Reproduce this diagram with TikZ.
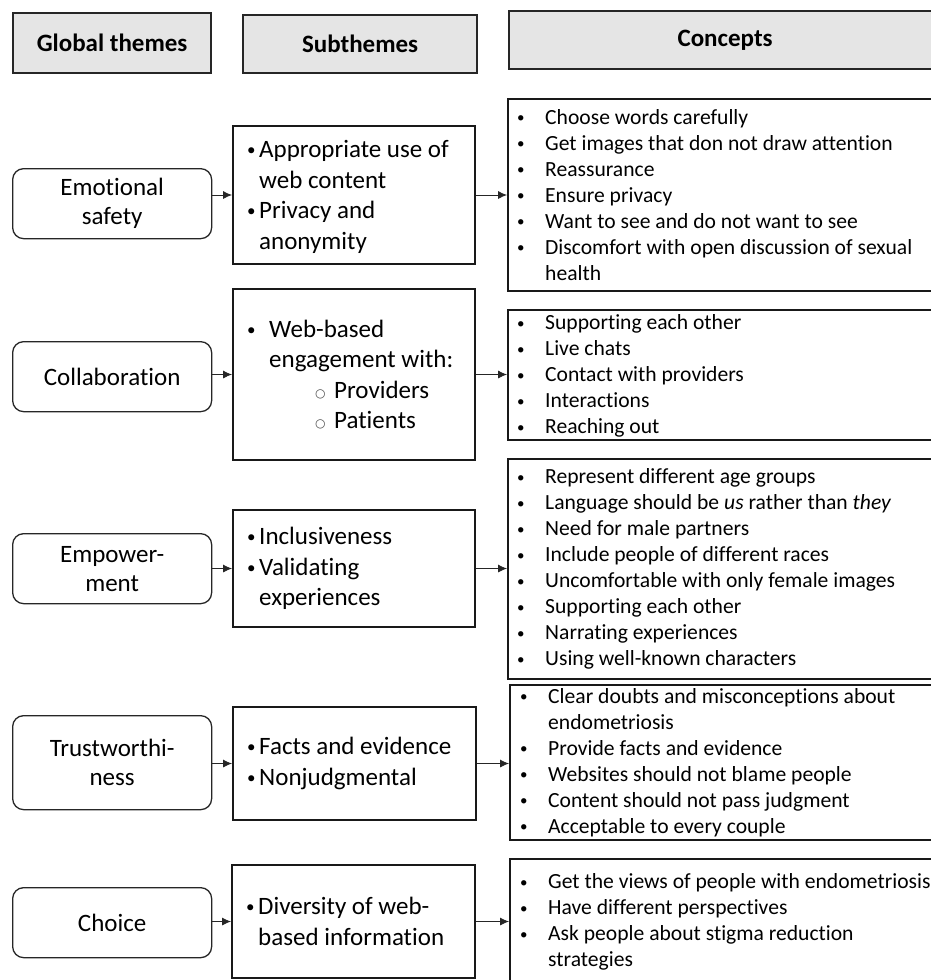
\documentclass[tikz,border=0pt]{standalone}
\usepackage{fontspec}
\setmainfont{Carlito}[Ligatures=NoCommon]
\newfontfamily\dvfam{DejaVu Sans}
\usetikzlibrary{arrows.meta}
\newcommand\smallbul{\raisebox{1.5pt}{\fontsize{15}{15}\selectfont•}}
\newcommand\conbul{\makebox[28pt][l]{\smallbul}}
\newcommand\conind{\hspace*{28pt}}
\newcommand\subbul{\makebox[12pt][l]{\raisebox{2pt}{\fontsize{17}{17}\selectfont•}}}
\newcommand\subind{\hspace*{12pt}}
\newcommand\subcirc{\makebox[19pt][l]{\raisebox{1pt}{\textcolor{black!70}{\dvfam\fontsize{12}{12}\selectfont○}}}}
\begin{document}
\begin{tikzpicture}[x=1pt,y=-1pt,
  hdr/.style={draw=black!85, line width=2.2pt, fill=black!10, anchor=north west, inner sep=0pt,
    font=\fontsize{25}{30}\selectfont\bfseries},
  gbox/.style={draw=black!85, line width=1.3pt, rounded corners=11pt, anchor=north west, inner sep=0pt,
    align=center, font=\fontsize{25}{29}\selectfont},
  frame/.style={draw=black!90, line width=2pt, anchor=north west, inner sep=0pt},
  stext/.style={anchor=west, inner sep=0pt, align=left, font=\fontsize{25}{30.5}\selectfont},
  ctext/.style={anchor=west, inner sep=0pt, align=left, font=\fontsize{21.6}{26}\selectfont},
  arr/.style={-{Latex[length=9pt,width=8pt]}, line width=0.8pt, draw=black!85}]
\clip (0,0) rectangle (931,980);
\fill[white] (0,0) rectangle (931,980);

% headers
\node[hdr, minimum width=198pt, minimum height=60pt] (h1) at (12,12) {Global themes};
\node[hdr, minimum width=234pt, minimum height=58pt] (h2) at (242,14) {Subthemes};
\node[hdr, minimum width=432pt, minimum height=58pt] (h3) at (508,10) {Concepts};

% global themes
\node[gbox, minimum width=199pt, minimum height=70pt] (g1) at (12,168) {Emotional\\safety};
\node[gbox, minimum width=199pt, minimum height=70pt] (g2) at (12,341) {Collaboration};
\node[gbox, minimum width=199pt, minimum height=70pt] (g3) at (12,533) {Empower-\\ment};
\node[gbox, minimum width=199pt, minimum height=94pt] (g4) at (12,715) {Trustworthi-\\ness};
\node[gbox, minimum width=199pt, minimum height=70pt] (g5) at (12,887) {Choice};

% subtheme frames
\node[frame, minimum width=242pt, minimum height=138pt] (s1) at (232,125) {};
\node[frame, minimum width=242pt, minimum height=171pt] (s2) at (232,288) {};
\node[frame, minimum width=242pt, minimum height=117pt] (s3) at (232,509) {};
\node[frame, minimum width=243pt, minimum height=113pt] (s4) at (232,706) {};
\node[frame, minimum width=243pt, minimum height=113pt] (s5) at (231,864) {};

% subtheme texts
\node[stext] (s1t) at ([xshift=15pt,yshift=-2pt]s1.west) {\subbul Appropriate use of\\\subind web content\\\subbul Privacy and\\\subind anonymity};
\node[stext] (s2t) at ([xshift=15pt]s2.west) {\makebox[22pt][l]{\raisebox{2pt}{\fontsize{17}{17}\selectfont•}}Web-based\\\hspace*{22pt}engagement with:\\\hspace*{68pt}\subcirc Providers\\\hspace*{68pt}\subcirc Patients};
\node[stext] (s3t) at ([xshift=15pt]s3.west) {\subbul Inclusiveness\\\subbul Validating\\\subind experiences};
\node[stext] (s4t) at ([xshift=15pt]s4.west) {\subbul Facts and evidence\\\subbul Nonjudgmental};
\node[stext] (s5t) at ([xshift=15pt]s5.west) {\subbul Diversity of web-\\\subind based information};

% concept frames
\node[frame, minimum width=440pt, minimum height=192pt] (c1) at (507,98) {};
\node[frame, minimum width=440pt, minimum height=130pt] (c2) at (507,309) {};
\node[frame, minimum width=440pt, minimum height=220pt] (c3) at (507,458) {};
\node[frame, minimum width=440pt, minimum height=155pt] (c4) at (509,684) {};
\node[frame, minimum width=440pt, minimum height=126pt] (c5) at (509,858) {};

% concept texts
\node[ctext] (c1t) at ([xshift=10pt]c1.west) {\conbul Choose words carefully\\\conbul Get images that don not draw attention\\\conbul Reassurance\\\conbul Ensure privacy\\\conbul Want to see and do not want to see\\\conbul Discomfort with open discussion of sexual\\\conind health};
\node[ctext] (c2t) at ([xshift=10pt,yshift=-1pt]c2.west) {\conbul Supporting each other\\\conbul Live chats\\\conbul Contact with providers\\\conbul Interactions\\\conbul Reaching out};
\node[ctext] (c3t) at ([xshift=10pt]c3.west) {\conbul Represent different age groups\\\conbul Language should be \textit{us} rather than \textit{they}\\\conbul Need for male partners\\\conbul Include people of different races\\\conbul Uncomfortable with only female images\\\conbul Supporting each other\\\conbul Narrating experiences\\\conbul Using well-known characters};
\node[ctext] (c4t) at ([xshift=11pt]c4.west) {\conbul Clear doubts and misconceptions about\\\conind endometriosis\\\conbul Provide facts and evidence\\\conbul Websites should not blame people\\\conbul Content should not pass judgment\\\conbul Acceptable to every couple};
\node[ctext] (c5t) at ([xshift=11pt]c5.west) {\conbul Get the views of people with endometriosis\\\conbul Have different perspectives\\\conbul Ask people about stigma reduction\\\conind strategies};

% arrows
\draw[arr] (s1.west -| g1.east) -- (s1.west);
\draw[arr] (s2.west -| g2.east) -- (s2.west);
\draw[arr] (s3.west -| g3.east) -- (s3.west);
\draw[arr] (s4.west -| g4.east) -- (s4.west);
\draw[arr] (s5.west -| g5.east) -- (s5.west);
\draw[arr] (s1.east) -- (s1.east -| c1.west);
\draw[arr] (s2.east) -- (s2.east -| c2.west);
\draw[arr] (s3.east) -- (s3.east -| c3.west);
\draw[arr] (s4.east) -- (s4.east -| c4.west);
\draw[arr] (s5.east) -- (s5.east -| c5.west);
\end{tikzpicture}
\end{document}
